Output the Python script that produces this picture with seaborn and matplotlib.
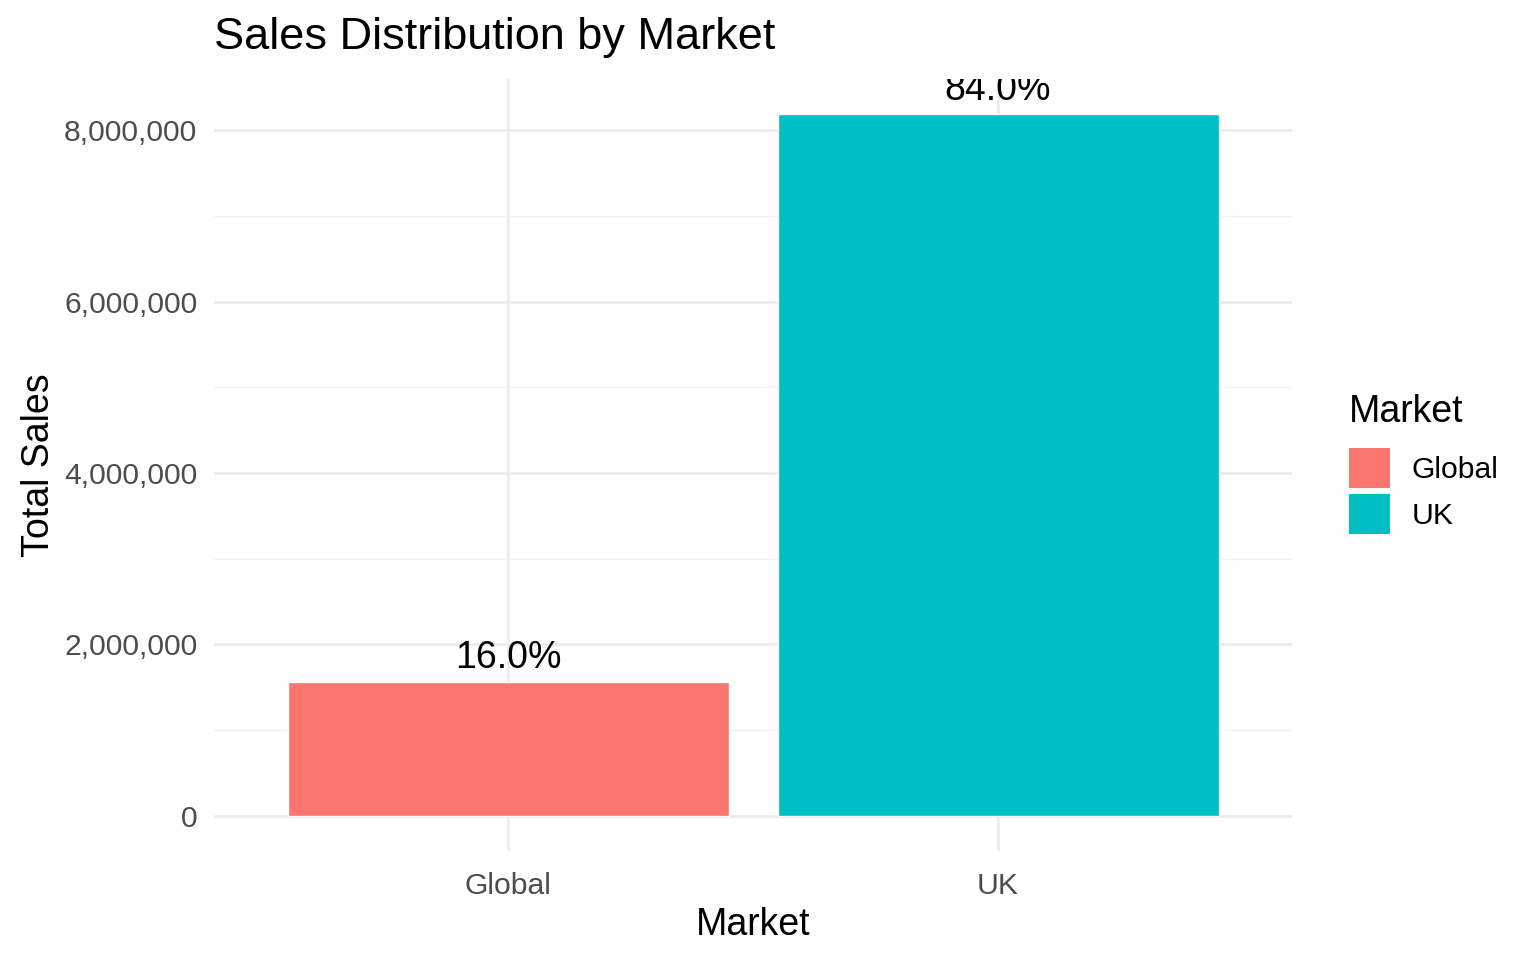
import matplotlib
matplotlib.use("Agg")
import matplotlib.pyplot as plt
import matplotlib.ticker as mticker
from matplotlib.patches import Patch
import pandas as pd
import seaborn as sns

# donnees
markets = ["Global", "UK"]
sales = [1563000, 8187000]
colors = ["#F8766D", "#00BFC4"]
yticks = [0, 2000000, 4000000, 6000000, 8000000]

df = pd.DataFrame({"Market": markets, "Sales": sales})
total = sum(sales)
df["pct"] = [f"{100 * s / total:.1f}%" for s in sales]

sns.set_style("white")
plt.rcParams["font.family"] = ["Liberation Sans", "DejaVu Sans"]
plt.rcParams["text.color"] = "black"

fig = plt.figure(figsize=(15.36, 9.6), dpi=100)
ax = fig.add_axes([214 / 1536, 1 - 851 / 960, (1292 - 214) / 1536, (851 - 79) / 960])

sns.barplot(data=df, x="Market", y="Sales", hue="Market", palette=colors,
            width=0.9, saturation=1, legend=False, ax=ax, zorder=3)

ymax = max(sales)
ax.set_ylim(-0.05 * ymax, 1.05 * ymax)
ax.set_xlim(-0.6, len(markets) - 0.4)

# grille style ggplot minimal
ax.set_yticks(yticks)
ax.yaxis.set_minor_locator(mticker.FixedLocator([1e6, 3e6, 5e6, 7e6]))
ax.yaxis.set_major_formatter(mticker.FuncFormatter(lambda v, p: f"{int(v):,}"))
ax.grid(axis="y", which="major", color="#EBEBEB", lw=1.9, zorder=0)
ax.grid(axis="y", which="minor", color="#F2F2F2", lw=1.0, zorder=0)
ax.grid(axis="x", which="major", color="#EBEBEB", lw=1.9, zorder=0)
ax.set_axisbelow(True)
for s in ax.spines.values():
    s.set_visible(False)
ax.tick_params(axis="both", which="both", length=0, labelsize=21.7, colors="#4D4D4D")
ax.tick_params(axis="y", pad=12)
ax.tick_params(axis="x", pad=15)

# etiquettes de pourcentage
for i, row in df.iterrows():
    ax.annotate(row["pct"], (i, row["Sales"]), xytext=(0, 4.5), textcoords="offset points",
                ha="center", va="bottom", fontsize=27, color="black",
                annotation_clip=False, clip_on=True)

ax.set_xlabel("Market", fontsize=27, color="black", labelpad=5)
ax.set_ylabel("Total Sales", fontsize=27, color="black", labelpad=5)
fig.text(214 / 1536, 1 - 37 / 960, "Sales Distribution by Market", fontsize=32.5,
         ha="left", va="center", color="black")

# legende
fig.text(1349 / 1536, 1 - 412 / 960, "Market", fontsize=27, ha="left", va="center",
         color="black")
handles = [Patch(facecolor=c, edgecolor="none") for c in colors]
leg = fig.legend(handles, markets, loc="upper left",
                 bbox_to_anchor=(1349 / 1536, 1 - 448 / 960), frameon=False,
                 fontsize=21.7, handlelength=1.36, handleheight=1.66,
                 labelspacing=0.2, handletextpad=0.72, borderpad=0, borderaxespad=0)
for t in leg.get_texts():
    t.set_color("black")

fig.savefig("out.png", dpi=100)
